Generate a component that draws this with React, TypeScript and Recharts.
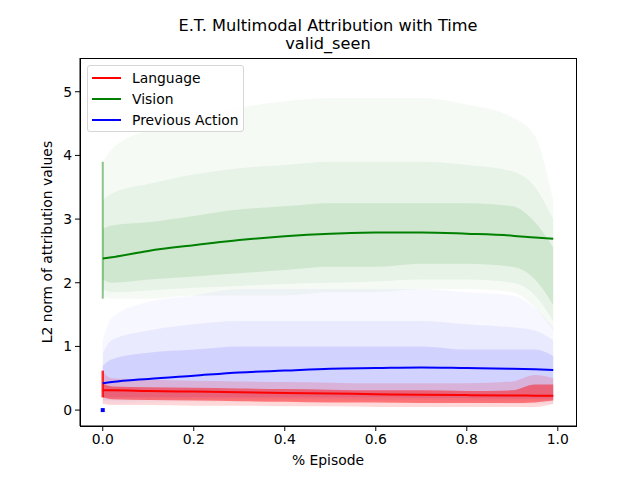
import React from 'react';
import { ComposedChart, Area, Line, Scatter, XAxis, YAxis } from 'recharts';

// x positions (% episode) where the clouds and fitted curves are read
const episodeX = [0, 0.02, 0.1, 0.2, 0.3, 0.4, 0.5, 0.6, 0.7, 0.8, 0.9, 0.95, 0.99];

// fitted curves
const languageFit = [0.31, 0.31, 0.3, 0.29, 0.28, 0.27, 0.26, 0.25, 0.24, 0.235, 0.23, 0.227, 0.225];
const visionFit = [2.38, 2.4, 2.5, 2.59, 2.67, 2.73, 2.77, 2.79, 2.79, 2.77, 2.74, 2.71, 2.69];
const actionFit = [0.42, 0.44, 0.49, 0.54, 0.59, 0.62, 0.65, 0.66, 0.67, 0.66, 0.65, 0.64, 0.63];

// point clouds: faint outer spread, middle and dense core
const visionOuterLow = [1.8, 1.75, 1.75, 1.8, 1.8, 1.8, 1.85, 1.85, 1.9, 1.9, 1.85, 1.6, 1.25];
const visionOuterHigh = [3.9, 4.1, 4.4, 4.6, 4.75, 4.85, 4.9, 4.9, 4.9, 4.8, 4.6, 4.3, 3.3];
const visionMidLow = [1.9, 1.85, 1.88, 1.92, 1.95, 1.98, 2.0, 2.02, 2.05, 2.05, 2.0, 1.8, 1.4];
const visionMidHigh = [3.3, 3.4, 3.55, 3.7, 3.8, 3.85, 3.9, 3.9, 3.9, 3.85, 3.75, 3.5, 3.0];
const visionCoreLow = [2.05, 2.0, 2.05, 2.1, 2.15, 2.2, 2.25, 2.25, 2.3, 2.3, 2.25, 2.05, 1.65];
const visionCoreHigh = [2.85, 2.9, 2.95, 3.05, 3.15, 3.2, 3.25, 3.25, 3.25, 3.25, 3.2, 2.95, 2.55];

const actionOuterLow = [0.1, 0.1, 0.12, 0.13, 0.14, 0.14, 0.14, 0.13, 0.12, 0.12, 0.1, 0.1, 0.1];
const actionOuterHigh = [1.1, 1.45, 1.7, 1.8, 1.9, 1.9, 1.9, 1.9, 1.9, 1.85, 1.8, 1.6, 1.3];
const actionMidLow = [0.15, 0.15, 0.16, 0.17, 0.17, 0.17, 0.17, 0.16, 0.16, 0.15, 0.15, 0.15, 0.15];
const actionMidHigh = [0.9, 1.1, 1.25, 1.35, 1.4, 1.4, 1.4, 1.4, 1.4, 1.35, 1.3, 1.25, 1.1];
const actionCoreLow = [0.2, 0.2, 0.2, 0.2, 0.2, 0.2, 0.2, 0.2, 0.19, 0.19, 0.18, 0.18, 0.18];
const actionCoreHigh = [0.7, 0.8, 0.9, 0.95, 1.0, 1.0, 1.0, 1.0, 1.0, 0.95, 0.95, 0.95, 0.85];

const languageOuterLow = [0.1, 0.08, 0.08, 0.07, 0.07, 0.06, 0.06, 0.05, 0.05, 0.05, 0.05, 0.05, 0.1];
const languageOuterHigh = [0.6, 0.5, 0.48, 0.46, 0.45, 0.44, 0.43, 0.42, 0.42, 0.42, 0.45, 0.55, 0.5];
const languageCoreLow = [0.2, 0.17, 0.16, 0.15, 0.14, 0.13, 0.12, 0.12, 0.11, 0.11, 0.11, 0.12, 0.15];
const languageCoreHigh = [0.42, 0.37, 0.36, 0.35, 0.34, 0.33, 0.32, 0.31, 0.31, 0.3, 0.31, 0.4, 0.4];

// streaks at episode start
const visionStart = [{ x: 0, y: 1.75 }, { x: 0, y: 3.9 }];
const languageStart = [{ x: 0, y: 0.2 }, { x: 0, y: 0.62 }];
const actionZero = [{ x: 0, y: 0 }];

const xTicks = [0, 0.2, 0.4, 0.6, 0.8, 1.0];
const yTicks = [0, 1, 2, 3, 4, 5];

const legendItems = [
  { name: 'Language', color: '#ff0000' },
  { name: 'Vision', color: '#008000' },
  { name: 'Previous Action', color: '#0000ff' },
];

const rows = episodeX.map((x, i) => ({
  x,
  language: languageFit[i],
  vision: visionFit[i],
  action: actionFit[i],
  vOuter: [visionOuterLow[i], visionOuterHigh[i]],
  vMid: [visionMidLow[i], visionMidHigh[i]],
  vCore: [visionCoreLow[i], visionCoreHigh[i]],
  aOuter: [actionOuterLow[i], actionOuterHigh[i]],
  aMid: [actionMidLow[i], actionMidHigh[i]],
  aCore: [actionCoreLow[i], actionCoreHigh[i]],
  lOuter: [languageOuterLow[i], languageOuterHigh[i]],
  lCore: [languageCoreLow[i], languageCoreHigh[i]],
}));

const font = 'DejaVu Sans, sans-serif';
const tickStyle = { fill: '#000', fontSize: 13.9, fontFamily: font };

const SmallSquare = (props: any) => <rect x={props.cx - 2} y={props.cy - 2} width={4} height={4} fill="#0000ff" />;

export default function App() {
  return (
    <div style={{ position: 'absolute', left: 0, top: 0, width: 640, height: 480, background: '#fff', fontFamily: font }}>
      <div style={{ position: 'absolute', left: 0, width: 656, top: 17, textAlign: 'center', fontSize: 16.2, lineHeight: '17px', color: '#000' }}>
        E.T. Multimodal Attribution with Time
      </div>
      <div style={{ position: 'absolute', left: 0, width: 656, top: 35, textAlign: 'center', fontSize: 16.2, lineHeight: '17px', color: '#000' }}>
        valid_seen
      </div>
      <ComposedChart width={640} height={480} data={rows} margin={{ top: 58, right: 64, bottom: 14, left: 40 }}>
        <XAxis
          dataKey="x"
          type="number"
          domain={[-0.05, 1.04]}
          ticks={xTicks}
          tickFormatter={(v: number) => v.toFixed(1)}
          tick={tickStyle}
          tickSize={5}
          tickMargin={3}
          stroke="#000"
          height={40}
          allowDataOverflow
        />
        <YAxis
          type="number"
          domain={[-0.25, 5.53]}
          ticks={yTicks}
          tick={tickStyle}
          tickSize={5}
          tickMargin={3}
          stroke="#000"
          width={40}
          allowDataOverflow
        />

        <Area dataKey="vOuter" type="monotone" fill="#008000" fillOpacity={0.04} stroke="none" isAnimationActive={false} />
        <Area dataKey="vMid" type="monotone" fill="#008000" fillOpacity={0.06} stroke="none" isAnimationActive={false} />
        <Area dataKey="vCore" type="monotone" fill="#008000" fillOpacity={0.1} stroke="none" isAnimationActive={false} />
        <Area dataKey="aOuter" type="monotone" fill="#0000ff" fillOpacity={0.03} stroke="none" isAnimationActive={false} />
        <Area dataKey="aMid" type="monotone" fill="#0000ff" fillOpacity={0.05} stroke="none" isAnimationActive={false} />
        <Area dataKey="aCore" type="monotone" fill="#0000ff" fillOpacity={0.1} stroke="none" isAnimationActive={false} />
        <Area dataKey="lOuter" type="monotone" fill="#ff0000" fillOpacity={0.15} stroke="none" isAnimationActive={false} />
        <Area dataKey="lCore" type="monotone" fill="#ff0000" fillOpacity={0.45} stroke="none" isAnimationActive={false} />

        <Line data={visionStart} dataKey="y" stroke="#008000" strokeOpacity={0.45} strokeWidth={2} dot={false} isAnimationActive={false} />
        <Line data={languageStart} dataKey="y" stroke="#ff0000" strokeOpacity={0.8} strokeWidth={2.5} dot={false} isAnimationActive={false} />
        <Scatter data={actionZero} dataKey="y" shape={SmallSquare} isAnimationActive={false} legendType="none" />

        <Line dataKey="language" type="monotone" stroke="#ff0000" strokeWidth={2} dot={false} isAnimationActive={false} />
        <Line dataKey="vision" type="monotone" stroke="#008000" strokeWidth={2} dot={false} isAnimationActive={false} />
        <Line dataKey="action" type="monotone" stroke="#0000ff" strokeWidth={2} dot={false} isAnimationActive={false} />
      </ComposedChart>
      <div style={{ position: 'absolute', left: 80, top: 58, width: 495, height: 367, border: '1px solid #000', pointerEvents: 'none' }} />
      <div style={{ position: 'absolute', left: 0, width: 656, top: 452, textAlign: 'center', fontSize: 13.9, color: '#000' }}>% Episode</div>
      <div
        style={{
          position: 'absolute',
          left: 47,
          top: 242,
          transform: 'translate(-50%, -50%) rotate(-90deg)',
          whiteSpace: 'nowrap',
          fontSize: 13.9,
          color: '#000',
        }}
      >
        L2 norm of attribution values
      </div>
      <div
        style={{
          position: 'absolute',
          left: 87,
          top: 65,
          width: 155,
          height: 65,
          border: '1px solid #d6d6d6',
          borderRadius: 3,
          background: 'rgba(255,255,255,0.8)',
        }}
      >
        {legendItems.map((item, i) => (
          <div key={item.name} style={{ position: 'absolute', left: 0, top: 2 + i * 21, height: 20, display: 'flex', alignItems: 'center' }}>
            <div style={{ marginLeft: 4, width: 29, height: 2, background: item.color }} />
            <div style={{ marginLeft: 11, fontSize: 13.9, color: '#000' }}>{item.name}</div>
          </div>
        ))}
      </div>
    </div>
  );
}
